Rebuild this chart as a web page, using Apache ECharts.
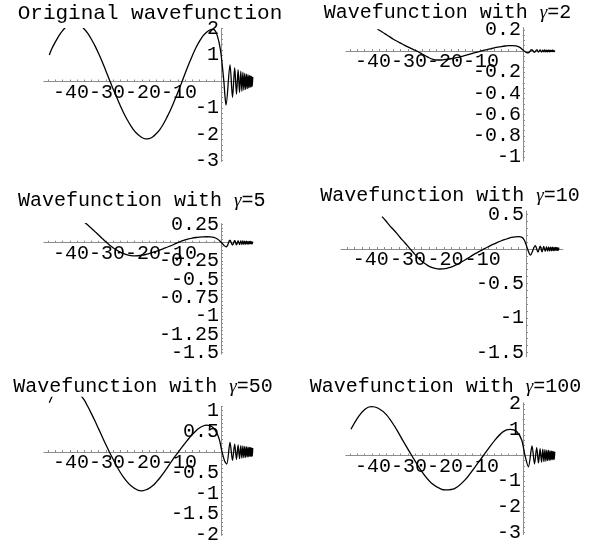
<!DOCTYPE html>
<html><head><meta charset="utf-8">
<script src="https://cdn.jsdelivr.net/npm/echarts@6/dist/echarts.min.js"></script>
<style>html,body{margin:0;padding:0;background:#fff}#c{width:590px;height:545px}</style>
</head><body><div id="c"></div>
<script>
// ---------------- DATA ----------------
const titleTexts = ["Original wavefunction", "2", "5", "10", "50", "100"];
const xTicks = [-40, -30, -20, -10];
const yTicks1 = [2, 1, -1, -2, -3];
const yTicks2 = [0.2, -0.2, -0.4, -0.6, -0.8, -1];
const yTicks3 = [0.25, -0.25, -0.5, -0.75, -1, -1.25, -1.5];
const yTicks4 = [0.5, -0.5, -1, -1.5];
const yTicks5 = [1, 0.5, -0.5, -1, -1.5, -2];
const yTicks6 = [2, 1, -1, -2, -3];

// x positions of the rapid oscillation extrema for x > 0
const tailX = [2.5, 3.2, 3.8, 4.3, 4.75, 5.15, 5.5, 5.8, 6.08, 6.35, 6.6, 6.84, 7.07, 7.29, 7.5, 7.7, 7.89, 8.07, 8.24, 8.4, 8.55, 8.69, 8.82];

const orig = [[-47.7,1.0],[-47,1.24],[-46,1.5],[-45,1.74],[-44,1.93],[-43,2.07],[-42,2.16],[-41,2.2],[-40,2.18],[-39,2.11],[-38,1.99],[-37,1.82],[-36,1.6],[-35,1.35],[-34,1.06],[-33,0.75],[-32,0.41],[-31,0.07],[-30,-0.27],[-29,-0.59],[-28,-0.91],[-27,-1.2],[-26,-1.46],[-25,-1.69],[-24,-1.88],[-23,-2.02],[-22,-2.12],[-21,-2.17],[-20,-2.16],[-19,-2.1],[-18,-1.98],[-17,-1.82],[-16,-1.61],[-15,-1.35],[-14,-1.07],[-13,-0.75],[-12,-0.42],[-11,-0.07],[-10,0.29],[-9,0.64],[-8,0.97],[-7,1.27],[-6,1.52],[-5,1.73],[-4,1.87],[-3,1.96],[-2.2,1.98],[-1.5,1.9],[-1,1.72],[-0.5,1.45],[0,1.05],[0.4,0.55],[0.8,0],[1.1,-0.55],[1.4,-0.89]];
const origTail = [0.63,-0.6,0.52,-0.48,0.45,-0.42,0.39,-0.37,0.35,-0.33,0.31,-0.3,0.28,-0.27,0.26,-0.24,0.23,-0.22,0.21,-0.2,0.19,-0.18,0.17];

const g2 = [[-40.4,0.205],[-39,0.177],[-38,0.155],[-37,0.133],[-36,0.111],[-35,0.092],[-34,0.074],[-33,0.056],[-32,0.039],[-31,0.022],[-30,0.007],[-29,-0.009],[-28,-0.028],[-27,-0.047],[-26,-0.066],[-25,-0.079],[-24,-0.085],[-23,-0.085],[-22,-0.082],[-21,-0.078],[-20,-0.073],[-19,-0.067],[-18,-0.06],[-17,-0.051],[-16,-0.042],[-15,-0.032],[-14,-0.022],[-13,-0.012],[-12,-0.004],[-11,0.005],[-10,0.013],[-9,0.021],[-8,0.029],[-7,0.036],[-6,0.042],[-5,0.047],[-4,0.05],[-3,0.051],[-2,0.048],[-1,0.037],[-0.4,0.022],[0.3,0.0],[0.9,-0.013],[1.4,-0.018]];
const g2Tail = [0.012,-0.012,0.011,-0.011,0.01,-0.01,0.009,-0.009,0.009,-0.008,0.008,-0.008,0.007,-0.007,0.007,-0.006,0.006,-0.006,0.006,-0.005,0.005,-0.005,0.005];

const g5 = [[-39.9,0.364],[-39,0.325],[-38,0.283],[-37,0.24],[-36,0.196],[-35,0.151],[-34,0.105],[-33,0.058],[-32,0.012],[-31,-0.03],[-30,-0.068],[-29,-0.1],[-28,-0.128],[-27,-0.15],[-26,-0.166],[-25,-0.176],[-24,-0.18],[-23,-0.178],[-22,-0.171],[-21,-0.161],[-20,-0.148],[-19,-0.133],[-18,-0.117],[-17,-0.1],[-16,-0.081],[-15,-0.062],[-14,-0.042],[-13,-0.021],[-12,0.002],[-11,0.022],[-10,0.038],[-9,0.052],[-8,0.063],[-7,0.071],[-6,0.077],[-5,0.08],[-4,0.081],[-3,0.08],[-2,0.072],[-1,0.05],[-0.4,0.028],[0.2,0.0],[0.9,-0.04],[1.5,-0.055]];
const g5Tail = [0.035,-0.034,0.031,-0.03,0.028,-0.027,0.026,-0.025,0.024,-0.023,0.022,-0.021,0.02,-0.02,0.019,-0.018,0.018,-0.017,0.016,-0.016,0.015,-0.015,0.014];

const g10 = [[-38.6,0.47],[-37.6,0.41],[-36.7,0.35],[-35.7,0.29],[-34.7,0.23],[-33.8,0.17],[-32.8,0.11],[-31.8,0.05],[-30.9,-0.01],[-29.9,-0.07],[-29,-0.125],[-28,-0.175],[-27,-0.215],[-26.1,-0.248],[-25.1,-0.271],[-24.1,-0.285],[-23.2,-0.29],[-22.2,-0.288],[-21.2,-0.28],[-20.3,-0.265],[-19.3,-0.245],[-18.3,-0.22],[-17.4,-0.19],[-16.4,-0.16],[-15.4,-0.128],[-14.5,-0.096],[-13.5,-0.064],[-12.5,-0.034],[-11.6,-0.008],[-10.6,0.018],[-9.65,0.045],[-8.7,0.07],[-7.7,0.094],[-6.75,0.116],[-5.8,0.136],[-4.8,0.153],[-3.9,0.167],[-2.9,0.177],[-1.9,0.18],[-0.97,0.165],[-0.48,0.13],[0,0.07],[0.48,-0.01],[1.16,-0.087]];
const g10Tail = [0.05,-0.046,0.042,-0.04,0.037,-0.035,0.033,-0.032,0.03,-0.029,0.028,-0.027,0.026,-0.025,0.024,-0.023,0.022,-0.021,0.021,-0.02,0.019,-0.019,0.018];

const g50 = [[-47.7,1.19],[-47,1.33],[-46,1.5],[-45,1.62],[-44,1.7],[-43,1.73],[-42,1.7],[-41,1.62],[-40,1.5],[-39,1.38],[-38,1.26],[-37,1.1],[-36,0.93],[-35,0.75],[-34,0.56],[-33,0.37],[-32,0.18],[-31,0.0],[-30,-0.17],[-29,-0.34],[-28,-0.49],[-27,-0.62],[-26,-0.73],[-25,-0.82],[-24,-0.88],[-23,-0.93],[-22,-0.94],[-21,-0.92],[-20,-0.88],[-19,-0.82],[-18,-0.73],[-17,-0.63],[-16,-0.51],[-15,-0.39],[-14,-0.26],[-13,-0.13],[-12,-0.02],[-11,0.1],[-10,0.21],[-9,0.32],[-8,0.42],[-7,0.51],[-6,0.58],[-5,0.63],[-4,0.65],[-3,0.64],[-2,0.57],[-1,0.43],[-0.4,0.28],[0.3,0],[1.0,-0.22],[1.6,-0.29]];
const g50Tail = [0.23,-0.2,0.19,-0.18,0.17,-0.16,0.155,-0.15,0.145,-0.14,0.135,-0.13,0.125,-0.12,0.118,-0.115,0.112,-0.11,0.107,-0.105,0.102,-0.1,0.1];

const g100 = [[-47.8,1.02],[-45.7,1.51],[-43.9,1.8],[-42.2,1.9],[-40.2,1.84],[-37.9,1.58],[-35.6,1.12],[-33.2,0.54],[-30.9,0],[-28.1,-0.63],[-25.4,-1.08],[-22.6,-1.32],[-21.5,-1.34],[-18.9,-1.28],[-16.1,-0.95],[-13.3,-0.44],[-11,0],[-7.8,0.6],[-5.5,0.93],[-3.6,1.02],[-1.75,0.93],[-0.36,0.6],[0.55,0],[1.5,-0.44]];
const g100Tail = [0.37,-0.33,0.31,-0.29,0.27,-0.26,0.25,-0.24,0.23,-0.22,0.21,-0.2,0.195,-0.19,0.18,-0.175,0.17,-0.165,0.16,-0.155,0.15,-0.148,0.145];

// ---------------- LAYOUT ----------------
const layout = [
  {x0:221, pxx:3.6,  y0:81.5,  sy:26.4, xMin:-49.2, xMax:8.8, yMin:-3.03, yMax:2.0,  clipMax:2.0,  minorY:0.2,  tx:150,   ty:13.3, tfs:21},
  {x0:523, pxx:3.6,  y0:51,    sy:106,  xMin:-49.2, xMax:8.8, yMin:-1.04, yMax:0.22, clipMax:0.22, minorY:0.05, tx:447.5, ty:12.7, tfs:20},
  {x0:221, pxx:3.6,  y0:242.7, sy:73.3, xMin:-49.2, xMax:8.8, yMin:-1.52, yMax:0.26, clipMax:0.26, minorY:0.05, tx:141.7, ty:201,  tfs:20},
  {x0:526, pxx:3.73, y0:249,   sy:69,   xMin:-49.6, xMax:9.9, yMin:-1.56, yMax:0.55, clipMax:0.55, minorY:0.1,  tx:450,   ty:195.5,tfs:20},
  {x0:221, pxx:3.6,  y0:452,   sy:41.3, xMin:-49.2, xMax:8.8, yMin:-2.02, yMax:1.1,  clipMax:1.32, minorY:0.1,  tx:143,   ty:386.7,tfs:20},
  {x0:523, pxx:3.6,  y0:455.5, sy:25.7, xMin:-49.2, xMax:8.8, yMin:-3.07, yMax:2.05, clipMax:2.05, minorY:0.2,  tx:445.5, ty:386.7,tfs:20}
];
const curves = [[orig, origTail],[g2,g2Tail],[g5,g5Tail],[g10,g10Tail],[g50,g50Tail],[g100,g100Tail]];
const yTickSets = [yTicks1,yTicks2,yTicks3,yTicks4,yTicks5,yTicks6];

const MONO = 'Liberation Mono';
const AX = '#8c8c8c';
function steps(min, max, step){const r=[];for(let k=Math.ceil(min/step-1e-9);k*step<=max+1e-9;k++){r.push(Math.round(k*step*1e6)/1e6);}return r;}
function fmt(v){return String(Math.round(v*1e6)/1e6);}
const everyOther = (arr, p) => arr.filter((_, k) => k % 2 === p);

const grid=[], xAxis=[], yAxis=[], series=[], graphic=[];
const hidden = {show:false};
const labelBase = {fontFamily:MONO, fontSize:20, color:'#000', hideOverlap:false};

layout.forEach((L,i)=>{
  const left = L.x0 + L.xMin*L.pxx, width = (L.xMax-L.xMin)*L.pxx;
  const top = L.y0 - L.yMax*L.sy;
  // x axis (two grids whose bottom edge is y = 0, labels split so neighbours never share an axis)
  [0,1].forEach(p=>{
    const gi = grid.length;
    grid.push({left:left, top:top, width:width, height:L.yMax*L.sy});
    xAxis.push({gridIndex:gi, type:'value', min:L.xMin, max:L.xMax, position:'bottom',
      axisLine:{show:p===0, onZero:false, lineStyle:{color:AX, width:1}},
      axisTick:{show:p===0, inside:true, length:2, customValues:steps(L.xMin,L.xMax,2), lineStyle:{color:AX}},
      axisLabel:Object.assign({customValues:everyOther(xTicks,p), formatter:v=>fmt(v)+'\u00a0', margin:1}, labelBase),
      splitLine:hidden});
    yAxis.push({gridIndex:gi, type:'value', min:0, max:L.yMax, show:false});
  });
  // y axis (two grids whose left edge is x = 0)
  [0,1].forEach(p=>{
    const gi = grid.length;
    grid.push({left:L.x0, top:top, width:L.xMax*L.pxx, height:(L.yMax-L.yMin)*L.sy});
    xAxis.push({gridIndex:gi, type:'value', min:0, max:L.xMax, show:false});
    yAxis.push({gridIndex:gi, type:'value', min:L.yMin, max:L.yMax, position:'left',
      axisLine:{show:p===0, onZero:false, lineStyle:{color:AX, width:1}},
      axisTick:{show:p===0, inside:true, length:2, customValues:steps(L.yMin,L.yMax,L.minorY), lineStyle:{color:AX}},
      axisLabel:Object.assign({customValues:everyOther(yTickSets[i],p), formatter:v=>fmt(v), margin:2}, labelBase),
      splitLine:hidden});
  });
  // data grid (clip region)
  const gd = grid.length;
  grid.push({left:left, top:L.y0 - L.clipMax*L.sy, width:width, height:(L.clipMax-L.yMin)*L.sy});
  xAxis.push({gridIndex:gd, type:'value', min:L.xMin, max:L.xMax, show:false});
  yAxis.push({gridIndex:gd, type:'value', min:L.yMin, max:L.clipMax, show:false});
  const [main, tailY] = curves[i];
  const data = main.concat(tailX.map((x,k)=>[x, tailY[k]]));
  series.push({type:'line', xAxisIndex:gd, yAxisIndex:gd, data:data, showSymbol:false, symbol:'none',
    smooth:0.3, clip:true, lineStyle:{color:'#000', width:1.3}, silent:true, animation:false});
  const rich = {t:{fontFamily:MONO, fontSize:L.tfs, color:'#000'}, g:{fontFamily:'Liberation Serif', fontStyle:'italic', fontSize:19, color:'#000'}};
  const txt = i===0 ? '{t|'+titleTexts[0]+'}' : '{t|Wavefunction with }{g|\u03b3}{t|='+titleTexts[i]+'}';
  graphic.push({type:'text', x:L.tx, y:L.ty, style:{text:txt, rich:rich, align:'center', verticalAlign:'middle'}});
});

const chart = echarts.init(document.getElementById('c'), null, {renderer:'canvas'});
chart.setOption({animation:false, backgroundColor:'#fff', grid, xAxis, yAxis, series, graphic});
</script>
</body></html>
